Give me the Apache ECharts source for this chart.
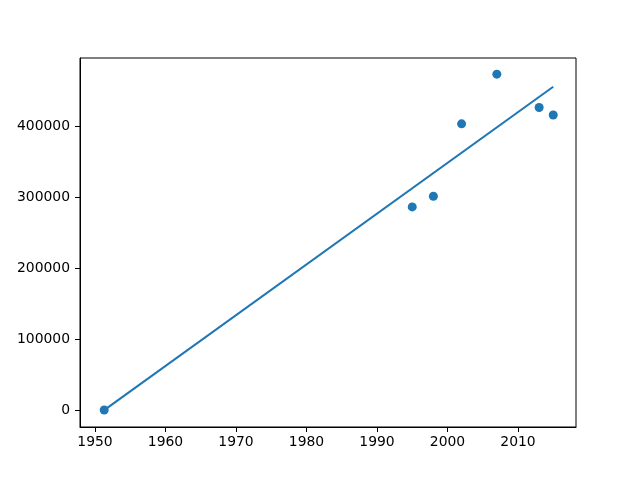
<!DOCTYPE html>
<html>
<head>
<meta charset="utf-8">
<script src="https://cdn.jsdelivr.net/npm/echarts@6/dist/echarts.min.js"></script>
<style>
  html, body { margin: 0; padding: 0; background: #fff; }
  #chart { width: 640px; height: 480px; }
</style>
</head>
<body>
<div id="chart"></div>
<script>
// scatter points
const years = [1951.3, 1995, 1998, 2002, 2007, 2013, 2015];
const values = [0, 286000, 301000, 403000, 473000, 426000, 415500];

// fitted line, end points
const lineYears = [1951.3, 2015];
const lineValues = [-300, 455300];

const xTicks = [1950, 1960, 1970, 1980, 1990, 2000, 2010];
const yTicks = [0, 100000, 200000, 300000, 400000];

const blue = '#1f77b4';
const font = 'DejaVu Sans';

const chart = echarts.init(document.getElementById('chart'));

const axisCommon = {
  type: 'value',
  splitLine: { show: false },
  axisLine: { show: true, onZero: false, lineStyle: { color: '#000', width: 1 } },
  axisTick: { show: true, inside: false, length: 5, lineStyle: { color: '#000', width: 1 } },
};

chart.setOption({
  animation: false,
  backgroundColor: '#fff',
  grid: {
    left: 80, right: 64, top: 58, bottom: 53,
    show: true, borderColor: '#000', borderWidth: 1,
  },
  xAxis: Object.assign({}, axisCommon, {
    min: 1947.87,
    max: 2018.23,
    axisTick: Object.assign({}, axisCommon.axisTick, { customValues: xTicks }),
    axisLabel: {
      customValues: xTicks,
      formatter: v => String(v),
      color: '#000', fontFamily: font, fontSize: 13.9, margin: 8,
    },
  }),
  yAxis: Object.assign({}, axisCommon, {
    min: -23944,
    max: 495775,
    axisTick: Object.assign({}, axisCommon.axisTick, { customValues: yTicks }),
    axisLabel: {
      customValues: yTicks,
      formatter: v => String(v),
      color: '#000', fontFamily: font, fontSize: 13.9, margin: 10,
    },
  }),
  series: [
    {
      type: 'line',
      data: lineYears.map((x, i) => [x, lineValues[i]]),
      symbol: 'none',
      lineStyle: { color: blue, width: 2.08 },
      z: 2,
    },
    {
      type: 'scatter',
      data: years.map((x, i) => [x, values[i]]),
      symbolSize: 9,
      itemStyle: { color: blue, opacity: 1 },
      z: 3,
    },
  ],
});
</script>
</body>
</html>
